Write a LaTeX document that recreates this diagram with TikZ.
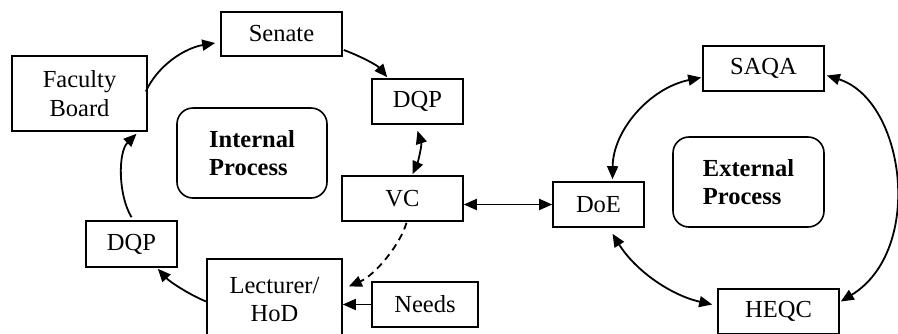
\documentclass[tikz,border=0pt]{standalone}
\usepackage{fontspec}
\setmainfont{Liberation Serif}
\usetikzlibrary{arrows.meta,calc}
\begin{document}
\begin{tikzpicture}[x=1pt,y=-1pt,
  font=\fontsize{24.5}{28.5}\selectfont,
  box/.style={draw,line width=1.6pt,align=center,inner sep=0pt},
  procbox/.style={draw,line width=1.6pt,rounded corners=16pt,align=left,inner sep=0pt,font=\fontsize{24.5}{28.5}\selectfont\bfseries},
  tip/.tip={Triangle[length=13pt,width=11pt]},
  arr/.style={line width=1.8pt,-tip},
  darr/.style={line width=1.8pt,tip-tip}]
\useasboundingbox (0,0) rectangle (898,333);

% internal cycle
\node[box,minimum width=121pt,minimum height=44pt] (senate) at (281.5,34) {Senate};
\node[box,minimum width=135pt,minimum height=75pt] (fb) at (79.5,93.5) {Faculty\\Board};
\node[box,minimum width=91pt,minimum height=45pt] (dqpa) at (417.5,101.5) {DQP};
\node[procbox,minimum width=150pt,minimum height=90pt] (int) at (252,153) {Internal\\Process};
\node[box,minimum width=121pt,minimum height=45pt] (vc) at (402.5,198.5) {VC};
\node[box,minimum width=91pt,minimum height=46pt] (dqpb) at (131.5,244) {DQP};
\node[box,minimum width=135pt,minimum height=81pt] (lec) at (274.5,299.5) {Lecturer/\\HoD};
\node[box,minimum width=106pt,minimum height=45pt] (needs) at (425,304.5) {Needs};

% external cycle
\node[box,minimum width=121pt,minimum height=45pt] (saqa) at (763.5,68.5) {SAQA};
\node[procbox,minimum width=151pt,minimum height=90pt] (ext) at (748.5,182) {External\\Process};
\node[box,minimum width=91pt,minimum height=45pt] (doe) at (598.5,204.5) {DoE};
\node[box,minimum width=121pt,minimum height=45pt] (heqc) at (778.5,311.5) {HEQC};

% internal connectors
\draw[arr] ($(fb.east)+(-2,-2)$) .. controls (158,65) and (185,48) .. ($(senate.west)+(-5,9)$);
\draw[arr] ($(senate.east)+(1,16)$) .. controls (360,56) and (377,65) .. ($(dqpa.north west)+(16,-1)$);
\draw[darr] ($(dqpa.south)+(0,6)$) .. controls (422,145) and (418,162) .. ($(vc.north)+(10,-1)$);
\draw[darr] (doe.west -| vc.east) -- (doe.west);
\draw[arr,dash pattern=on 7pt off 5pt] ($(vc.south)+(4,1)$) .. controls (400,245) and (375,275) .. ($(lec.east)+(6,-13)$);
\draw[arr] (needs.west) -- (needs.west -| lec.east);
\draw[arr] ($(lec.west)+(0,2)$) .. controls (190,295) and (170,282) .. ($(dqpb.south east)+(-20,1)$);
\draw[arr] ($(dqpb.north)+(0,-3)$) .. controls (118,195) and (118,152) .. ($(fb.south)+(57,2)$);

% external connectors
\draw[darr] ($(doe.north)+(14,-2)$) .. controls (613,130) and (650,88) .. ($(saqa.west)+(-1,9)$);
\draw[darr] ($(saqa.east)+(2,7)$) .. controls (905,100) and (925,250) .. ($(heqc.east)+(1,-10)$);
\draw[darr] ($(doe.south)+(14,6)$) .. controls (635,270) and (670,295) .. ($(heqc.west)+(-5,-7)$);
\end{tikzpicture}
\end{document}
